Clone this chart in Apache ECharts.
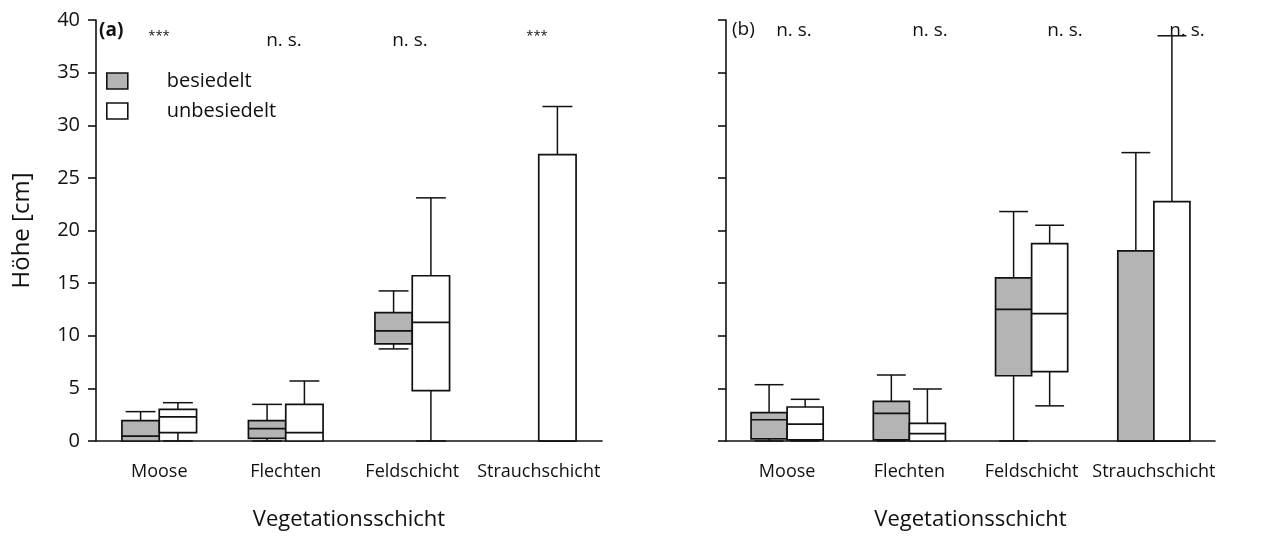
<!DOCTYPE html>
<html>
<head>
<meta charset="utf-8">
<script src="https://cdn.jsdelivr.net/npm/echarts@6/dist/echarts.min.js"></script>
<style>
  html, body { margin: 0; padding: 0; background: #fff; }
  #main { width: 1278px; height: 536px; }
</style>
</head>
<body>
<div id="main"></div>
<script>
var categories = ['Moose', 'Flechten', 'Feldschicht', 'Strauchschicht'];

// each entry: [min, q1, median, q3, max], null = no box
var besiedeltA = [[0, 0, 0.47, 1.93, 2.79], [0, 0.25, 1.17, 1.93, 3.48], [8.75, 9.22, 10.46, 12.2, 14.26], null];
var unbesiedeltA = [[0, 0.8, 2.3, 3.0, 3.64], [0, 0, 0.8, 3.48, 5.7], [0, 4.78, 11.28, 15.7, 23.1], [0, 0, 0, 27.2, 31.78]];
var besiedeltB = [[0, 0.2, 2.02, 2.69, 5.35], [0, 0.1, 2.63, 3.77, 6.27], [0, 6.2, 12.5, 15.5, 21.8], [0, 0, 0, 18.07, 27.4]];
var unbesiedeltB = [[0, 0.1, 1.6, 3.23, 3.96], [0, 0, 0.7, 1.68, 4.94], [3.34, 6.6, 12.1, 18.75, 20.5], [0, 0, 0, 22.75, 38.5]];

var sigA = ['***', 'n. s.', 'n. s.', '***'];
var sigB = ['n. s.', 'n. s.', 'n. s.', 'n. s.'];

var yTicks = [0, 5, 10, 15, 20, 25, 30, 35, 40];

var FONT = 'Open Sans';
var INK = '#111111';
var GRAY = '#b4b4b4';

function rows(list) {
  var out = [];
  list.forEach(function (v, i) {
    if (v) out.push([i].concat(v));
  });
  return out;
}

function boxRender(side, fill) {
  return function (params, api) {
    var cat = api.value(0);
    var band = api.size([1, 0])[0];
    var w = band * 0.295;
    var capW = w * 0.8;
    var base = api.coord([cat, 0]);
    var cx = base[0] + side * w / 2;
    var y = function (v) { return api.coord([cat, v])[1]; };
    var mn = api.value(1), q1 = api.value(2), md = api.value(3), q3 = api.value(4), mx = api.value(5);
    var line = { stroke: INK, lineWidth: 1.5 };
    var kids = [];
    if (q1 > mn) {
      kids.push({ type: 'line', shape: { x1: cx, y1: y(q1), x2: cx, y2: y(mn) }, style: line });
      kids.push({ type: 'line', shape: { x1: cx - capW / 2, y1: y(mn), x2: cx + capW / 2, y2: y(mn) }, style: line });
    }
    if (mx > q3) {
      kids.push({ type: 'line', shape: { x1: cx, y1: y(q3), x2: cx, y2: y(mx) }, style: line });
      kids.push({ type: 'line', shape: { x1: cx - capW / 2, y1: y(mx), x2: cx + capW / 2, y2: y(mx) }, style: line });
    }
    kids.push({
      type: 'rect',
      shape: { x: cx - w / 2, y: y(q3), width: w, height: y(q1) - y(q3) },
      style: { fill: fill, stroke: INK, lineWidth: 1.7 }
    });
    kids.push({ type: 'line', shape: { x1: cx - w / 2, y1: y(md), x2: cx + w / 2, y2: y(md) }, style: { stroke: INK, lineWidth: 1.7 } });
    return { type: 'group', children: kids };
  };
}

function boxSeries(name, list, idx, side, fill) {
  return {
    name: name,
    type: 'custom',
    xAxisIndex: idx,
    yAxisIndex: idx,
    itemStyle: { color: fill, borderColor: INK, borderWidth: 1.5 },
    encode: { x: 0, y: [1, 2, 3, 4, 5] },
    data: rows(list),
    renderItem: boxRender(side, fill),
    silent: true
  };
}

function xAxisDef(idx) {
  return {
    type: 'category',
    gridIndex: idx,
    data: categories,
    boundaryGap: true,
    axisLine: { lineStyle: { color: INK, width: 1.6 } },
    axisTick: { alignWithLabel: true, length: 8, lineStyle: { color: INK, width: 1.6 } },
    axisLabel: { interval: 0, fontFamily: FONT, fontSize: 18, color: INK, margin: 22 },
    name: 'Vegetationsschicht',
    nameLocation: 'middle',
    nameGap: 68,
    nameTextStyle: { fontFamily: FONT, fontSize: 22, color: INK },
    splitLine: { show: false }
  };
}

function yAxisDef(idx, showLabels) {
  return {
    type: 'value',
    gridIndex: idx,
    min: yTicks[0],
    max: yTicks[yTicks.length - 1],
    interval: 5,
    axisLine: { show: true, lineStyle: { color: INK, width: 1.6 } },
    axisTick: { show: true, length: 8, lineStyle: { color: INK, width: 1.6 } },
    axisLabel: { show: showLabels, fontFamily: FONT, fontSize: 20, color: INK, margin: 16 },
    splitLine: { show: false },
    name: showLabels ? 'Höhe [cm]' : '',
    nameLocation: 'middle',
    nameGap: 62,
    nameTextStyle: { fontFamily: FONT, fontSize: 24, color: INK }
  };
}

function sigText(x, y, t) {
  var small = t === '***';
  return {
    type: 'text', x: x, y: y,
    style: {
      text: t, fill: INK,
      font: (small ? '13px ' : '19px ') + FONT,
      align: 'center', verticalAlign: 'middle'
    }
  };
}

var chart = echarts.init(document.getElementById('main'));

var sigXA = [159, 284, 410, 537];
var sigXB = [794, 930, 1065, 1187];
var graphics = [
  { type: 'text', x: 99, y: 31, style: { text: '(a)', fill: INK, font: 'bold 19px ' + FONT, verticalAlign: 'middle' } },
  { type: 'text', x: 732, y: 30, style: { text: '(b)', fill: INK, font: '19px ' + FONT, verticalAlign: 'middle' } }
];
sigA.forEach(function (t, i) { graphics.push(sigText(sigXA[i], t === '***' ? 36 : 41, t)); });
sigB.forEach(function (t, i) { graphics.push(sigText(sigXB[i], 31, t)); });

chart.setOption({
  backgroundColor: '#ffffff',
  animation: false,
  grid: [
    { left: 96, top: 20, width: 506, height: 421 },
    { left: 726, top: 20, width: 489, height: 421 }
  ],
  legend: {
    orient: 'vertical',
    left: 106,
    top: 71,
    padding: 0,
    itemWidth: 21,
    itemHeight: 16,
    itemGap: 10,
    icon: 'rect',
    selectedMode: false,
    textStyle: { fontFamily: FONT, fontSize: 20, color: INK, padding: [0, 0, 0, 34] },
    data: [
      { name: 'besiedelt', itemStyle: { color: GRAY, borderColor: INK, borderWidth: 1.6 } },
      { name: 'unbesiedelt', itemStyle: { color: '#ffffff', borderColor: INK, borderWidth: 1.6 } }
    ]
  },
  xAxis: [xAxisDef(0), xAxisDef(1)],
  yAxis: [yAxisDef(0, true), yAxisDef(1, false)],
  graphic: graphics,
  series: [
    boxSeries('besiedelt', besiedeltA, 0, -1, GRAY),
    boxSeries('unbesiedelt', unbesiedeltA, 0, 1, '#ffffff'),
    boxSeries('besiedelt', besiedeltB, 1, -1, GRAY),
    boxSeries('unbesiedelt', unbesiedeltB, 1, 1, '#ffffff')
  ]
});
</script>
</body>
</html>
